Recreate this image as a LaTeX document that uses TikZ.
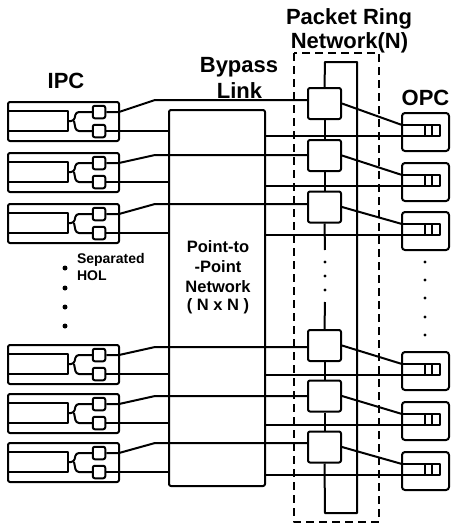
\documentclass[tikz,border=0pt]{standalone}
\usepackage{fontspec}
\setmainfont{Liberation Sans}
\begin{document}
\begin{tikzpicture}[x=1pt,y=-1pt,line width=2pt,line join=round,
  ipcbox/.style={draw,rounded corners=2pt,minimum width=111pt,minimum height=39pt,inner sep=0pt},
  sqbox/.style={draw,fill=white,rounded corners=2pt,minimum width=12.5pt,minimum height=12.5pt,inner sep=0pt},
  opcbox/.style={draw,rounded corners=3pt,minimum width=47pt,minimum height=38pt,inner sep=0pt},
  rnode/.style={draw,fill=white,rounded corners=2pt,minimum width=33pt,minimum height=31pt,inner sep=0pt},
  bigtxt/.style={font=\bfseries\fontsize{22}{22}\selectfont,inner sep=0pt},
  midtxt/.style={font=\bfseries\fontsize{16.5}{16.5}\selectfont,inner sep=0pt},
  smalltxt/.style={font=\bfseries\fontsize{14}{14}\selectfont,inner sep=0pt},
  dotmark/.style={fill,circle,inner sep=0pt}]
\useasboundingbox (0,0) rectangle (451,525);

% titles
\node[bigtxt,anchor=base] (tipc) at (66,88) {IPC};
\node[bigtxt,anchor=base] (tbyp1) at (239,72) {Bypass};
\node[bigtxt,anchor=base] (tbyp2) at (239.5,98) {Link};
\node[bigtxt,anchor=base] (tring1) at (349,24) {Packet Ring};
\node[bigtxt,anchor=base] (tring2) at (349.5,48) {Network(N)};
\node[bigtxt,anchor=base] (topc) at (425.5,105) {OPC};
\node[smalltxt,anchor=base west] (tsep1) at (76,263) {Separated};
\node[smalltxt,anchor=base west] (tsep2) at (76,280) {HOL};

% bypass network
\node[draw,rounded corners=2pt,minimum width=96pt,minimum height=376pt,inner sep=0pt] (byp) at (217,298) {};
\node[midtxt,anchor=base] (tp1) at (218,252) {Point-to};
\node[midtxt,anchor=base] (tp2) at (218,272) {-Point};
\node[midtxt,anchor=base] (tp3) at (218,292) {Network};
\node[midtxt,anchor=base] (tp4) at (218,310) {( N x N )};

% dashed packet ring boundary
\draw[dash pattern=on 8pt off 5pt,line width=2.2pt] (294,53) rectangle (379,522);

% ring nodes
\node[rnode] (n1) at (324.5,103.5) {};
\node[rnode] (n2) at (324.5,155.5) {};
\node[rnode] (n3) at (324.5,207) {};
\node[rnode] (n4) at (324.5,345.5) {};
\node[rnode] (n5) at (324.5,396) {};
\node[rnode] (n6) at (324.5,447) {};
\coordinate (rtl) at (325,62);
\coordinate (rtr) at (357,62);
\coordinate (rbr) at (357,513);
\coordinate (rbl) at (325,513);
\draw (n1.north) -- (rtl) -- (rtr) -- (rbr) -- (rbl) -- (n6.south);
\draw (n1.south) -- (n2.north);
\draw (n2.south) -- (n3.north);
\coordinate (rg1) at (325,250);
\coordinate (rg2) at (325,302);
\draw (n3.south) -- (rg1);
\draw (rg2) -- (n4.north);
\draw (n4.south) -- (n5.north);
\draw (n5.south) -- (n6.north);
\foreach \y [count=\k] in {262,276,290} \node[dotmark,minimum size=3.2pt] (rd\k) at (325,\y) {};

% IPC boxes
\foreach \i/\T/\Y in {1/102/100,2/153/155,3/204/204,4/345/347,5/394/396,6/443/443} {
  \node[ipcbox] (ipc\i) at (63.5,\T+19.5) {};
  \draw (8,\T+9) -- (68,\T+9) -- (68,\T+29) -- (8,\T+29);
  \draw[rounded corners=3pt] (68,\T+19) -- (74,\T+19) -- (76,\T+10) -- (93,\T+10);
  \draw[rounded corners=3pt] (74,\T+19) -- (76,\T+29) -- (93,\T+29);
  \node[sqbox] (iu\i) at (99,\T+10) {};
  \node[sqbox] (il\i) at (99,\T+29) {};
  \coordinate (ie\i) at (119,\T+10);
  \coordinate (ik\i) at (155,\Y);
  \draw (iu\i.east) -- (ie\i) -- (ik\i) -- (n\i.west |- ik\i);
  \draw (il\i.east) -- (il\i.east -| byp.west);
}

% OPC boxes
\foreach \i/\O in {1/113,2/163,3/212,4/352,5/402,6/452} {
  \node[opcbox] (o\i) at (425.5,\O+19) {};
  \coordinate (oqt\i) at (402,\O+12);
  \coordinate (oqb\i) at (402,\O+23);
  \draw (oqt\i) -- (440,\O+12) -- (440,\O+23) -- (oqb\i);
  \draw[line width=1.6pt] (425,\O+12) -- (425,\O+23) (432,\O+12) -- (432,\O+23);
  \draw (n\i.east) -- (oqt\i);
  \draw (byp.east |- oqb\i) -- (oqb\i);
}

% ellipsis dots
\foreach \y [count=\k] in {268,288,307,326} \node[dotmark,minimum size=5pt] (ld\k) at (65,\y) {};
\foreach \y [count=\k] in {262,280,298,317,335} \node[dotmark,minimum size=3.2pt] (od\k) at (425,\y) {};
\end{tikzpicture}
\end{document}
